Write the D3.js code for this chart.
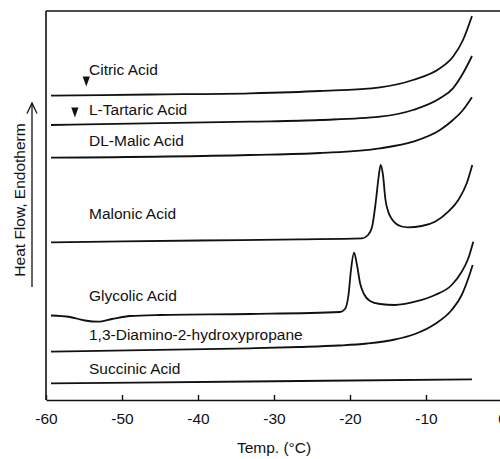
<!DOCTYPE html>
<html>
<head>
<meta charset="utf-8">
<script src="https://cdn.jsdelivr.net/npm/d3@7"></script>
<style>
  html, body { margin: 0; padding: 0; background: #fff; }
  svg { display: block; font-family: "Liberation Sans", Arial, sans-serif; }
</style>
</head>
<body>
<svg id="chart" width="500" height="459"></svg>
<script>
// DSC heating traces, temperature in °C, heat flow in arbitrary (offset) units
const xTicks = [-60, -50, -40, -30, -20, -10, 0];

const citric = [[-59.34, 30.43], [-46.3, 30.55], [-33.16, 30.67], [-23.95, 30.9], [-16.05, 31.27],
  [-11.71, 32.0], [-8.16, 33.17], [-6.45, 34.33], [-5.13, 36.0], [-3.95, 38.4]];

const lTartaric = [[-59.34, 27.5], [-33.16, 27.83], [-23.95, 28.0], [-16.05, 28.33], [-11.71, 29.0],
  [-8.16, 30.17], [-6.45, 31.17], [-5.13, 32.67], [-3.95, 34.4]];

const dlMalic = [[-59.34, 24.23], [-33.16, 24.5], [-23.95, 24.7], [-16.05, 25.17], [-11.71, 25.83],
  [-8.16, 27.0], [-6.45, 28.0], [-5.13, 29.0], [-3.95, 30.27]];

const malonic = [[-59.34, 15.77], [-39.74, 15.95], [-26.58, 16.07], [-18.42, 16.17], [-17.63, 16.5],
  [-17.1, 17.3], [-16.58, 20.0], [-16.25, 22.2], [-15.96, 23.5], [-15.66, 22.5], [-15.33, 20.0],
  [-15.0, 18.9], [-14.5, 18.1], [-13.9, 17.6], [-13.2, 17.35], [-12.37, 17.27], [-10.57, 17.4],
  [-8.82, 17.83], [-7.07, 18.83], [-5.75, 20.0], [-4.64, 21.67], [-3.91, 23.5]];

const glycolic = [[-59.34, 8.45], [-56.84, 8.3], [-54.87, 7.95], [-53.16, 7.83], [-51.32, 8.1],
  [-48.95, 8.4], [-45.0, 8.5], [-33.16, 8.6], [-21.32, 8.8], [-20.66, 9.1], [-20.2, 10.5],
  [-19.87, 13.0], [-19.47, 14.73], [-19.08, 13.5], [-18.68, 11.7], [-18.16, 10.6], [-17.37, 9.9],
  [-16.05, 9.6], [-14.08, 9.5], [-11.45, 9.83], [-8.82, 10.5], [-6.62, 11.5], [-5.3, 12.83],
  [-4.43, 14.17], [-3.78, 15.83]];

const diamino = [[-59.34, 4.83], [-33.16, 5.17], [-26.58, 5.3], [-21.5, 5.45], [-17.76, 5.65],
  [-14.08, 6.05], [-11.45, 6.6], [-8.82, 7.6], [-6.62, 9.0], [-5.3, 10.5], [-4.43, 12.17],
  [-3.86, 13.5]];

const succinic = [[-59.34, 1.67], [-33.16, 1.85], [-3.95, 2.07]];

const seriesNames = ["Citric Acid", "L-Tartaric Acid", "DL-Malic Acid", "Malonic Acid",
  "Glycolic Acid", "1,3-Diamino-2-hydroxypropane", "Succinic Acid"];
const seriesData = [citric, lTartaric, dlMalic, malonic, glycolic, diamino, succinic];

// glass-transition markers: [temperature, heat flow]
const tgMarkers = [[-54.7, 31.85], [-56.2, 28.75]];

// ---- layout ----
const svg = d3.select("#chart");
const x = d3.scaleLinear().domain([-60, 0]).range([46, 502]);
const y = d3.scaleLinear().domain([0, 38.9]).range([400, 11]);
const ink = "#111";

// frame: left and top edges
svg.append("line").attr("x1", 46).attr("x2", 46).attr("y1", 11).attr("y2", 400)
  .attr("stroke", ink).attr("stroke-width", 1.6);
svg.append("line").attr("x1", 46).attr("x2", 502).attr("y1", 11).attr("y2", 11)
  .attr("stroke", ink).attr("stroke-width", 1.6);

// bottom axis, ticks pointing inward
const xAxis = d3.axisBottom(x).tickValues(xTicks).tickSizeInner(-5).tickSizeOuter(0)
  .tickPadding(13).tickFormat(d3.format("d"));
const gx = svg.append("g").attr("transform", "translate(0,400)").call(xAxis);
gx.select(".domain").attr("stroke", ink).attr("stroke-width", 1.6);
gx.selectAll(".tick line").attr("stroke", ink).attr("stroke-width", 1.4);
gx.selectAll(".tick text").attr("fill", ink).attr("font-size", "15.5px")
  .attr("font-family", "'Liberation Sans', Arial, sans-serif")
  .text(d => d < 0 ? "-" + Math.abs(d) : d);

svg.append("text").attr("x", 274).attr("y", 453).attr("text-anchor", "middle")
  .attr("font-size", "15.5px").attr("fill", ink).text("Temp. (°C)");

// y-axis title with arrow
svg.append("text").attr("transform", "translate(24.5,200) rotate(-90)")
  .attr("text-anchor", "middle").attr("font-size", "15.5px").attr("fill", ink)
  .text("Heat Flow, Endotherm");
svg.append("line").attr("x1", 32).attr("x2", 32).attr("y1", 287).attr("y2", 103)
  .attr("stroke", ink).attr("stroke-width", 1.3);
svg.append("path").attr("d", "M27,113.5 L32,103 L37,113.5")
  .attr("fill", "none").attr("stroke", ink).attr("stroke-width", 1.3);

// traces
const line = d3.line().x(d => x(d[0])).y(d => y(d[1])).curve(d3.curveMonotoneX);
svg.append("g").selectAll("path").data(seriesData).join("path")
  .attr("d", line).attr("fill", "none").attr("stroke", ink)
  .attr("stroke-width", 1.8).attr("stroke-linejoin", "round");

// trace labels: pixel offset above each trace's starting level
const labelLift = [20.7, 10, 12, 23, 14.8, 11.7, 9.3];
svg.append("g").selectAll("text").data(seriesNames).join("text")
  .attr("x", 89)
  .attr("y", (d, i) => y(seriesData[i][0][1]) - labelLift[i])
  .attr("font-size", "15.5px").attr("fill", ink).text(d => d);

// Tg markers (filled downward triangles)
svg.append("g").selectAll("path").data(tgMarkers).join("path")
  .attr("transform", d => `translate(${x(d[0])},${y(d[1])})`)
  .attr("d", "M-3.6,-5 L3.6,-5 L0,5 Z").attr("fill", ink);
</script>
</body>
</html>
